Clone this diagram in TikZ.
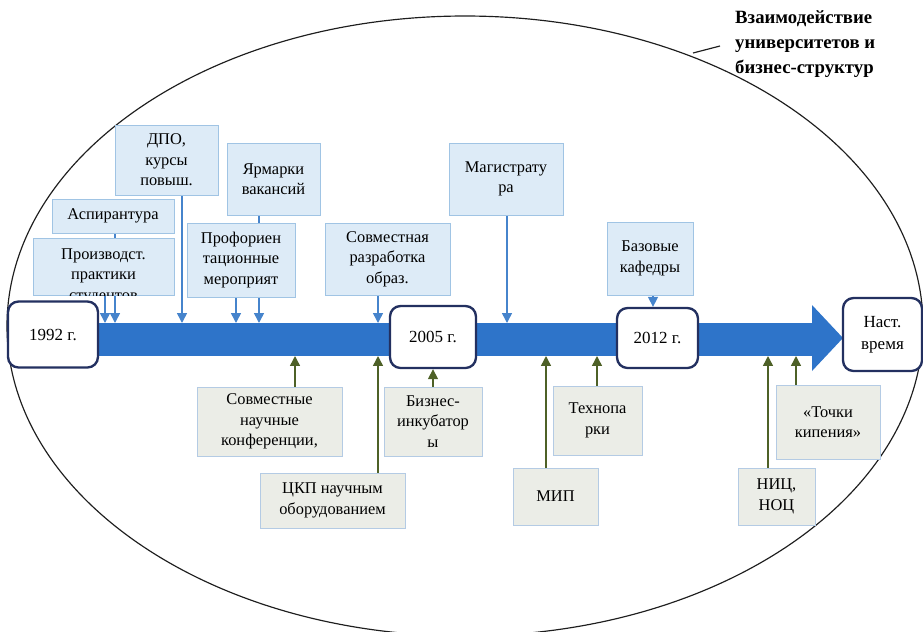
\documentclass[tikz,border=0pt]{standalone}
\usepackage{fontspec}
\setmainfont{Liberation Serif}
\newfontfamily\timesfont{Liberation Serif}
\usetikzlibrary{arrows.meta,backgrounds}
\definecolor{bandblue}{RGB}{46,116,201}
\definecolor{dnblue}{RGB}{70,132,204}
\definecolor{upolive}{RGB}{78,97,39}
\definecolor{topfill}{RGB}{221,235,247}
\definecolor{topline}{RGB}{160,196,228}
\definecolor{lowfill}{RGB}{235,237,231}
\definecolor{lowline}{RGB}{180,203,228}
\definecolor{yearline}{RGB}{35,48,96}
\definecolor{ellline}{RGB}{30,30,30}
\newcommand{\pxl}{0.03cm}
\begin{document}
\begin{tikzpicture}[x=0.03cm,y=-0.03cm,
  topbox/.style={draw=topline, fill=topfill, line width=0.6pt, align=center, inner sep=0pt, font=\timesfont\fontsize{14}{17.5}\selectfont},
  lowbox/.style={draw=lowline, fill=lowfill, line width=0.6pt, align=center, inner sep=0pt, font=\timesfont\fontsize{14}{17.5}\selectfont},
  yearbox/.style={draw=yearline, fill=white, line width=2pt, rounded corners=9pt, align=center, inner sep=0pt, font=\timesfont\fontsize{14.5}{18.5}\selectfont},
  downarrow/.style={draw=dnblue, line width=1.3pt, -{Triangle[width=8.5pt,length=8.5pt]}},
  uparrow/.style={draw=upolive, line width=1.3pt, -{Triangle[width=8.5pt,length=8.5pt]}}]
\useasboundingbox (0,0) rectangle (923,631);
\node[font=\timesfont\bfseries\fontsize{16}{21.5}\selectfont, align=left, anchor=west, inner sep=0pt] (title) at (735,44) {Взаимодействие\\университетов и\\бизнес-структур};
\coordinate (ellpt) at (693,53);
\node[yearbox, minimum width=90*\pxl, minimum height=66*\pxl] (y1992) at (53,334.5) {1992 г.};
\node[yearbox, minimum width=86*\pxl, minimum height=62*\pxl] (y2005) at (433,337) {2005 г.};
\node[yearbox, minimum width=81*\pxl, minimum height=60*\pxl] (y2012) at (657.5,338) {2012 г.};
\node[yearbox, minimum width=79*\pxl, minimum height=73*\pxl] (ynow) at (882.5,334.5) {Наст.\\время};
\node[topbox, minimum width=122*\pxl, minimum height=34*\pxl] (aspir) at (113,216) {Аспирантура};
\node[topbox, minimum width=141*\pxl, minimum height=57*\pxl] (proizv) at (103.5,266.5) {};
\begin{scope}
\clip (proizv.south west) rectangle (proizv.north east);
\node[align=center, inner sep=0pt, font=\timesfont\fontsize{14}{17.5}\selectfont] (proizvtxt) at (103.5,276) {Производст.\\практики\\студентов};
\end{scope}
\node[topbox, minimum width=103*\pxl, minimum height=70*\pxl] (dpo) at (166.5,160) {ДПО,\\курсы\\повыш.};
\node[topbox, minimum width=93*\pxl, minimum height=72*\pxl] (yarm) at (273.5,179) {Ярмарки\\вакансий};
\node[topbox, minimum width=108*\pxl, minimum height=74*\pxl] (proforient) at (241,260) {Профориен\\тационные\\мероприят};
\node[topbox, minimum width=125*\pxl, minimum height=72*\pxl] (sovrazr) at (387.5,259) {Совместная\\разработка\\образ.};
\node[topbox, minimum width=114*\pxl, minimum height=72*\pxl] (magistr) at (506,179) {Магистрату\\ра};
\node[topbox, minimum width=86*\pxl, minimum height=73*\pxl] (baz) at (650,258.5) {Базовые\\кафедры};
\node[lowbox, minimum width=145*\pxl, minimum height=69*\pxl] (konf) at (269.5,421.5) {Совместные\\научные\\конференции,};
\node[lowbox, minimum width=145*\pxl, minimum height=55*\pxl] (ckp) at (332.5,500.5) {ЦКП научным\\оборудованием};
\node[lowbox, minimum width=98*\pxl, minimum height=69*\pxl] (inkub) at (433,421.5) {Бизнес-\\инкубатор\\ы};
\node[lowbox, minimum width=85*\pxl, minimum height=57*\pxl] (mip) at (555.5,496.5) {МИП};
\node[lowbox, minimum width=89*\pxl, minimum height=69*\pxl] (tehno) at (597.5,420.5) {Технопа\\рки};
\node[lowbox, minimum width=77*\pxl, minimum height=57*\pxl] (nic) at (776.5,496.5) {НИЦ,\\НОЦ};
\node[lowbox, minimum width=104*\pxl, minimum height=74*\pxl] (tochki) at (828,422) {«Точки\\кипения»};
\coordinate (d1) at (105,323);
\coordinate (d2) at (115,323);
\coordinate (d3) at (182,323);
\coordinate (d4) at (236,323);
\coordinate (d5) at (259,323);
\coordinate (d6) at (378,323);
\coordinate (d7) at (507,323);
\coordinate (u1) at (295,356);
\coordinate (u2) at (378,356);
\coordinate (u3) at (546,356);
\coordinate (u4) at (597,356);
\coordinate (u5) at (768,356);
\coordinate (u6) at (796,356);
\begin{pgfonlayer}{background}
\draw[draw=ellline, line width=1pt] (465,326) ellipse [x radius=458, y radius=310];
\draw[draw=ellline, line width=1pt] (ellpt) -- ([shift={(-15,2)}]title.west);
\fill[bandblue] (60,323) rectangle (812,356);
\fill[bandblue] (812,305) -- (843,338) -- (812,371) -- cycle;
\draw[downarrow] (proizv.south -| d1) -- (d1);
\draw[downarrow] (aspir.south -| d2) -- (d2);
\draw[downarrow] (dpo.south -| d3) -- (d3);
\draw[downarrow] (proforient.south -| d4) -- (d4);
\draw[downarrow] (yarm.south -| d5) -- (d5);
\draw[downarrow] (sovrazr.south -| d6) -- (d6);
\draw[downarrow] (magistr.south -| d7) -- (d7);
\draw[downarrow] ([xshift=3*\pxl]baz.south) -- ([xshift=3*\pxl]baz.south |- y2012.north);
\draw[uparrow] (konf.north -| u1) -- (u1);
\draw[uparrow] (ckp.north -| u2) -- (u2);
\draw[uparrow] (inkub.north) -- (y2005.south);
\draw[uparrow] (mip.north -| u3) -- (u3);
\draw[uparrow] (tehno.north -| u4) -- (u4);
\draw[uparrow] (nic.north -| u5) -- (u5);
\draw[uparrow] (tochki.north -| u6) -- (u6);
\end{pgfonlayer}
\end{tikzpicture}
\end{document}
